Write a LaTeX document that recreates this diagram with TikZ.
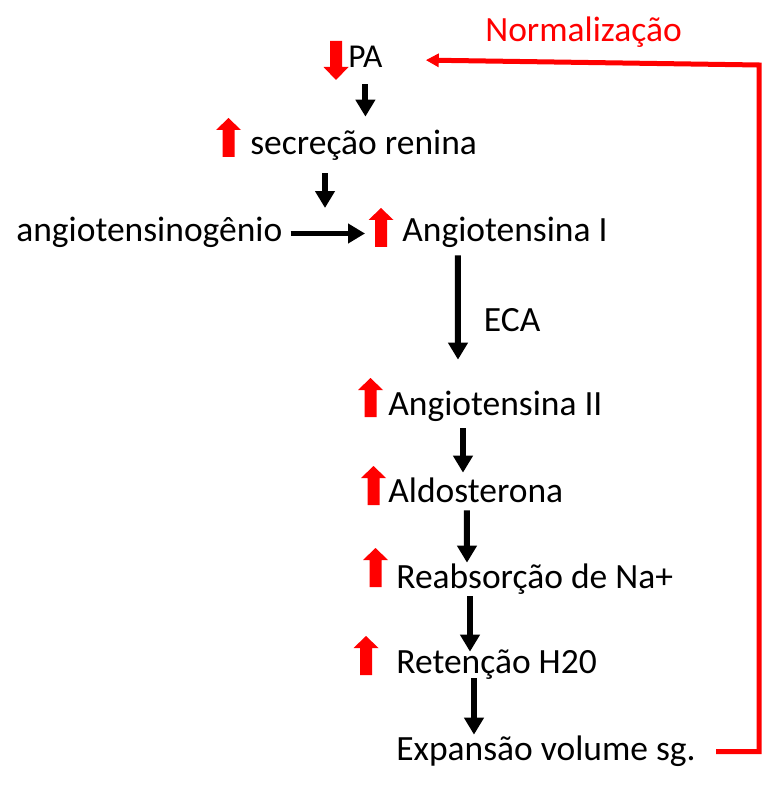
\documentclass[tikz,border=0pt]{standalone}
\usepackage{fontspec}
\setmainfont{Carlito}
\usepackage{tikz}
\usetikzlibrary{arrows.meta,calc}

\tikzset{
	txt/.style={anchor=base west, inner sep=0pt, text height=0.5cm, text depth=0.16cm, font=\fontsize{20.2pt}{24pt}\selectfont},
	blk/.style={line width=0.12cm, -{Triangle[length=0.34cm,width=0.38cm]}},
	fb/.style={red, line width=0.1cm, -{Triangle[length=0.26cm,width=0.26cm]}},
	upblk/.pic={\fill[red] (-6,39) -- (-6,12) -- (-12.5,12) -- (0,0) -- (12.5,12) -- (6,12) -- (6,39) -- cycle;},
	downblk/.pic={\fill[red] (-6,0) -- (6,0) -- (6,26) -- (12.5,26) -- (0,39) -- (-12.5,26) -- (-6,26) -- cycle;}
}

\begin{document}
\begin{tikzpicture}[x=0.02cm, y=-0.02cm]
					\useasboundingbox (0,0) rectangle (771,793);
					\node[txt, font=\fontsize{19pt}{23pt}\selectfont] (pa) at (348,68) {PA};
					\node[txt] (sec) at (250,155) {secreção renina};
					\node[txt] (ang0) at (16,242) {angiotensinogênio};
					\node[txt] (ang1) at (402,242) {Angiotensina I};
					\node[txt] (ang2) at (388,415) {Angiotensina II};
					\node[txt] (aldo) at (388,502) {Aldosterona};
					\node[txt] (reab) at (396,588) {Reabsorção de Na+};
					\node[txt] (ret) at (396,673) {Retenção H20};
					\node[txt] (exp) at (396,760) {Expansão volume sg.};
					\node[txt, red] (norm) at (485,42) {Normalização};
					\pic at (336,41) {downblk};
					\pic at (228.5,118) {upblk};
					\pic at (381,208) {upblk};
					\pic at (370.5,378) {upblk};
					\pic at (373.5,466) {upblk};
					\pic at (375.5,548) {upblk};
					\pic at (366,636) {upblk};
					\coordinate (jn) at (325,208);
					\coordinate (c2) at (759,65);
					\draw[blk, shorten <=0.16cm, shorten >=0.26cm] (pa.south) -- (pa.south |- sec.north);
					\draw[blk, shorten <=0.2cm] (sec.south -| jn) -- (jn);
					\draw[blk, shorten <=0.16cm, shorten >=0.74cm] (ang0.east) -- (ang1.west);
					\draw[blk, shorten <=0.1cm, shorten >=0.6cm] ([xshift=1.12cm]ang1.south west) -- ([xshift=1.4cm]ang2.north west) node[midway, right=0.46cm, txt, anchor=west, text height=, text depth=] (eca) {ECA};
					\draw[blk, shorten <=0.1cm, shorten >=0.08cm] ([xshift=1.5cm]ang2.south west) -- ([xshift=1.5cm]aldo.north west);
					\draw[blk] ([xshift=1.58cm]aldo.south west) -- ([xshift=1.42cm]reab.north west);
					\draw[blk, shorten >=-0.08cm] ([xshift=1.48cm]reab.south west) -- ([xshift=1.48cm]ret.north west);
					\draw[blk, shorten <=-0.06cm] ([xshift=1.56cm]ret.south west) -- ([xshift=1.56cm]exp.north west);
					\draw[fb, shorten <=0.4cm, shorten >=0.86cm] (exp.east) -- (exp.east -| c2) -- (c2) -- (pa.east);
				\end{tikzpicture}
\end{document}
